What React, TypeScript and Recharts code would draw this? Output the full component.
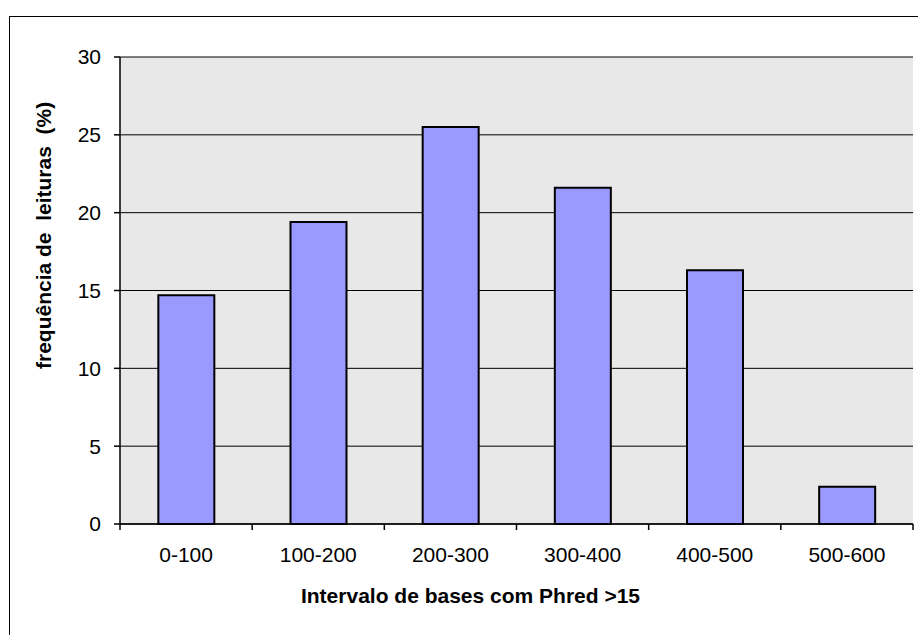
import React from 'react';
import { BarChart, Bar, XAxis, YAxis, CartesianGrid } from 'recharts';

// Read-length distribution: share of reads per interval of bases with Phred > 15
const categories = ['0-100', '100-200', '200-300', '300-400', '400-500', '500-600'];
const frequencies = [14.7, 19.4, 25.5, 21.6, 16.3, 2.4];
const yTicks = [0, 5, 10, 15, 20, 25, 30];

const xTitle = 'Intervalo de bases com Phred >15';
const yTitle = 'frequência de  leituras  (%)';

const data = categories.map((cat, i) => ({ cat, freq: frequencies[i] }));

const FONT = '"Liberation Sans", Arial, Helvetica, sans-serif';
const TICK_SIZE = 6;
const TICK_MARGIN = 17;

// Category labels centred in each band, with tick marks on the band boundaries
const CategoryTick = (props: any) => {
  const { x, y, payload, index, visibleTicksCount, width } = props;
  const half = payload && payload.offset ? payload.offset : width / visibleTicksCount / 2;
  const axisY = y - TICK_MARGIN - TICK_SIZE;
  return (
    <g>
      <line x1={x - half} x2={x - half} y1={axisY} y2={axisY + TICK_SIZE} stroke="#000" strokeWidth={1.5} />
      {index === visibleTicksCount - 1 && (
        <line x1={x + half} x2={x + half} y1={axisY} y2={axisY + TICK_SIZE} stroke="#000" strokeWidth={1.5} />
      )}
      <text x={x} y={y} dy="0.71em" textAnchor="middle" fontSize={21} fill="#000" fontFamily={FONT}>
        {payload.value}
      </text>
    </g>
  );
};

const XTitle = ({ viewBox }: any) => {
  const cx = viewBox.x + viewBox.width / 2 - 46;
  const baseline = viewBox.y + viewBox.height + 49;
  return (
    <text x={cx} y={baseline} textAnchor="middle" fontSize={21} fontWeight="bold" fill="#000" fontFamily={FONT}>
      {xTitle}
    </text>
  );
};

const YTitle = ({ viewBox }: any) => {
  const bx = viewBox.x + 6;
  const cy = viewBox.y + viewBox.height * 0.382;
  return (
    <text
      x={bx}
      y={cy}
      transform={`rotate(-90, ${bx}, ${cy})`}
      textAnchor="middle"
      fontSize={21}
      fontWeight="bold"
      fill="#000"
      fontFamily={FONT}
      style={{ whiteSpace: 'pre' }}
    >
      {yTitle}
    </text>
  );
};

export default function App() {
  return (
    <div style={{ position: 'absolute', left: 0, top: 0, width: 918, height: 635, overflow: 'hidden', background: '#fff' }}>
      <div
        style={{
          position: 'absolute',
          left: 9,
          top: 16,
          width: 1000,
          height: 1000,
          border: '1.5px solid #000',
          boxSizing: 'border-box',
        }}
      />
      <div style={{ position: 'absolute', left: 0, top: 0 }}>
        <BarChart
          width={918}
          height={635}
          data={data}
          margin={{ top: 57, right: 5, bottom: 81, left: 45 }}
          barCategoryGap="29%"
        >
          <CartesianGrid vertical={false} horizontal stroke="#000" strokeWidth={1} fill="#e8e8e8" fillOpacity={1} />
          <XAxis
            dataKey="cat"
            height={30}
            interval={0}
            tickLine={false}
            tickSize={TICK_SIZE}
            tickMargin={TICK_MARGIN}
            axisLine={{ stroke: '#000', strokeWidth: 1.5 }}
            tick={<CategoryTick />}
            label={<XTitle />}
          />
          <XAxis xAxisId="top" dataKey="cat" orientation="top" height={0} tick={false} tickLine={false} axisLine={{ stroke: '#888', strokeWidth: 2 }} />
          <YAxis
            width={75}
            domain={[0, 30]}
            ticks={yTicks}
            interval={0}
            tickSize={TICK_SIZE}
            tickMargin={13}
            tickLine={{ stroke: '#000', strokeWidth: 1.5 }}
            axisLine={{ stroke: '#000', strokeWidth: 1.5 }}
            tick={{ fontSize: 21, fill: '#000', fontFamily: FONT }}
            label={<YTitle />}
          />
          <YAxis yAxisId="right" orientation="right" width={0} domain={[0, 30]} tick={false} tickLine={false} axisLine={{ stroke: '#888', strokeWidth: 2 }} />
          <Bar dataKey="freq" fill="#9999ff" stroke="#000" strokeWidth={2} isAnimationActive={false} />
        </BarChart>
      </div>
    </div>
  );
}
